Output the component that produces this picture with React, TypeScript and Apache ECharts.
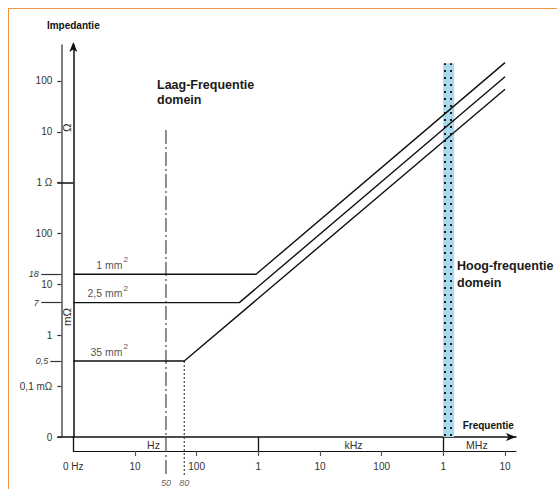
import React, { useEffect, useRef } from 'react';
import * as echarts from 'echarts';

// ---------- frequency axis (schematic log scale, "0 Hz" origin drawn at 1 Hz) ----------
const xTickHz = [1, 10, 100, 1e3, 1e4, 1e5, 1e6, 1e7];
const xTickLabels = ['0 Hz', '10', '100', '1', '10', '100', '1', '10'];
const xRangeHz = [1, 1.507e7];
const unitNames = ['Hz', 'kHz', 'MHz'];
const unitLabelHz = [20, 3.5e4, 3.5e6];
const unitBoundsHz = [1, 1e3, 1e6];

// ---------- impedance axis (schematic log scale, "0" origin drawn at 10 µΩ) ----------
const yTickOhm = [1e-5, 1e-4, 1e-3, 1e-2, 1e-1, 1, 10, 100];
const yTickLabels = ['0', '0,1 mΩ', '1', '10', '100', '1 Ω', '10', '100'];
const yRangeOhm = [1e-5, 509];
const yUnitNames = ['Ω', 'mΩ'];
const yUnitOhm = [12, 2.3e-3];
const yLongTickOhm = [1e-5, 1]; // "0" and "1 Ω" ticks crossing to the arrow axis

// ---------- cables ----------
const cableNames = ['1 mm', '2,5 mm', '35 mm'];
const plateauOhm = [0.0158, 0.00438, 0.000312];
const plateauLabels = ['18', '7', '0,5'];
const cornerHz = [918, 492, 63];
const endHz = [1e7, 1e7, 1e7];
const endOhm = [229, 121, 68.6];
const cableLabelHz = 7.7;

// ---------- 50 Hz / 80 Hz markers ----------
const markerLabels = ['50', '80'];
const markerHz = [31.8, 63];
const markerTopOhm = [10.9, 0.000312];
const markerBottomOhm = 1.64e-6;

// ---------- high-frequency band ----------
const bandHz = 1.22e6;
const bandTopOhm = 223;

const FONT = "'Liberation Sans', Arial, Helvetica, sans-serif";
const xPos = (f: number) => Math.log10(f / xRangeHz[0]);
const yPos = (o: number) => Math.log10(o / yRangeOhm[0]);
const xMax = xPos(xRangeHz[1]);
const yMax = yPos(yRangeOhm[1]);

const lookup = (vals: number[], labels: string[]) => (v: number) => {
  const i = vals.findIndex((t) => Math.abs(t - v) < 1e-6);
  return i >= 0 ? labels[i] : '';
};

function buildOption() {
  const hidden = { show: false };
  const xAxis: any[] = [
    {
      type: 'value', min: 0, max: xMax, position: 'bottom', offset: 0,
      axisLine: { show: true, onZero: false, symbol: ['none', 'arrow'], symbolSize: [6, 10], lineStyle: { color: '#111', width: 1.5 } },
      axisTick: { show: true, customValues: unitBoundsHz.map(xPos), length: 14, lineStyle: { color: '#111', width: 1.3 } },
      axisLabel: hidden, splitLine: hidden,
      name: 'Frequentie', nameLocation: 'end', nameGap: -53.3,
      nameTextStyle: { fontFamily: FONT, fontWeight: 'bold', fontSize: 10, color: '#111', verticalAlign: 'bottom', padding: [0, 0, 7, 0] },
    },
    {
      type: 'value', min: 0, max: xMax, position: 'bottom', offset: 14,
      axisLine: { show: true, onZero: false, lineStyle: { color: '#111', width: 1.2 } },
      axisTick: { show: true, customValues: xTickHz.slice(1).map(xPos), length: 5, lineStyle: { color: '#555', width: 1.2 } },
      axisLabel: {
        show: true, customValues: xTickHz.map(xPos), formatter: lookup(xTickHz.map(xPos), xTickLabels),
        margin: 10.5, fontSize: 10, color: '#333', fontFamily: FONT,
      },
      splitLine: hidden,
    },
    {
      type: 'value', min: 0, max: xMax, position: 'bottom', offset: 14,
      axisLine: { show: false, onZero: false }, axisTick: hidden,
      axisLabel: {
        show: true, inside: true, customValues: unitLabelHz.map(xPos), formatter: lookup(unitLabelHz.map(xPos), unitNames),
        margin: 1, fontSize: 10.5, color: '#333', fontFamily: FONT,
      },
      splitLine: hidden,
    },
  ];

  const yAxis: any[] = [
    {
      type: 'value', min: 0, max: yMax, position: 'left', offset: 0,
      axisLine: { show: true, onZero: false, symbol: ['none', 'arrow'], symbolSize: [6, 10], symbolOffset: [0, 3], lineStyle: { color: '#111', width: 1.5 } },
      axisTick: { show: true, customValues: yLongTickOhm.map(yPos), length: 16, lineStyle: { color: '#111', width: 1.5 } },
      axisLabel: {
        show: true, customValues: yUnitOhm.map(yPos), formatter: lookup(yUnitOhm.map(yPos), yUnitNames),
        rotate: 90, margin: 0, fontSize: 11.5, color: '#333', fontFamily: FONT,
      },
      splitLine: hidden,
      name: 'Impedantie', nameLocation: 'end', nameGap: 15,
      nameTextStyle: { fontFamily: FONT, fontWeight: 'bold', fontSize: 10, color: '#111' },
    },
    {
      type: 'value', min: 0, max: yMax, position: 'left', offset: 12,
      axisLine: { show: true, onZero: false, lineStyle: { color: '#555', width: 1.5 } },
      axisTick: { show: true, customValues: yTickOhm.map(yPos), length: 4, lineStyle: { color: '#333', width: 1.2 } },
      axisLabel: {
        show: true, customValues: yTickOhm.map(yPos), formatter: lookup(yTickOhm.map(yPos), yTickLabels),
        margin: 9, fontSize: 10, color: '#333', fontFamily: FONT,
      },
      splitLine: hidden,
    },
    {
      type: 'value', min: 0, max: yMax, position: 'left', offset: 12,
      axisLine: { show: false, onZero: false },
      axisTick: { show: true, customValues: plateauOhm.slice(0, 2).map(yPos), length: 20, lineStyle: { color: '#333', width: 1.2 } },
      axisLabel: {
        show: true, customValues: plateauOhm.slice(0, 2).map(yPos), formatter: lookup(plateauOhm.map(yPos), plateauLabels),
        margin: 22.5, fontSize: 9, fontStyle: 'italic', color: '#333', fontFamily: FONT,
      },
      splitLine: hidden,
    },
    {
      type: 'value', min: 0, max: yMax, position: 'left', offset: 12,
      axisLine: { show: false, onZero: false },
      axisTick: { show: true, customValues: plateauOhm.slice(2).map(yPos), length: 11, lineStyle: { color: '#333', width: 1.2 } },
      axisLabel: {
        show: true, customValues: plateauOhm.slice(2).map(yPos), formatter: lookup(plateauOhm.map(yPos), plateauLabels),
        margin: 13, fontSize: 9, fontStyle: 'italic', color: '#333', fontFamily: FONT,
      },
      splitLine: hidden,
    },
  ];

  const series: any[] = [];

  series.push({
    type: 'bar', name: 'band', barWidth: 11, z: 1,
    data: [[xPos(bandHz), yPos(bandTopOhm)]],
    itemStyle: {
      color: '#a9d9ee',
      decal: { symbol: 'rect', symbolSize: 1, color: '#1a1a1a', dashArrayX: [1.2, 3.8], dashArrayY: [1.2, 4.3], rotation: 0 },
    },
  });

  cableNames.forEach((name, i) => {
    series.push({
      type: 'line', name, symbol: 'none', z: 3,
      lineStyle: { color: '#111', width: 1.4 },
      data: [
        [xPos(xTickHz[0]), yPos(plateauOhm[i])],
        [xPos(cornerHz[i]), yPos(plateauOhm[i])],
        [xPos(endHz[i]), yPos(endOhm[i])],
      ],
    });
  });

  const markerStyles: any[] = [[14, 3, 2, 3], [2, 2]];
  markerLabels.forEach((name, i) => {
    series.push({
      type: 'line', name: name + ' Hz', symbol: 'none', clip: false, z: 2,
      lineStyle: { color: '#444', width: 1.2, type: markerStyles[i] },
      data: [
        [xPos(markerHz[i]), yPos(markerTopOhm[i])],
        [xPos(markerHz[i]), yPos(markerBottomOhm)],
      ],
    });
  });

  series.push({
    type: 'scatter', name: 'cable labels', symbol: 'circle', symbolSize: 1, z: 4,
    itemStyle: { color: 'transparent' },
    data: plateauOhm.map((o) => [xPos(cableLabelHz), yPos(o)]),
    label: {
      show: true, position: 'top', align: 'right', distance: 0,
      formatter: (p: any) => `{n|${cableNames[p.dataIndex]}}{s|2}`,
      rich: {
        n: { fontSize: 10.5, color: '#222', lineHeight: 18, fontFamily: FONT },
        s: { fontSize: 8, color: '#222', lineHeight: 8, verticalAlign: 'top', padding: [0, 0, 0, 1], fontFamily: FONT },
      },
    },
  });

  series.push({
    type: 'scatter', name: 'marker labels', symbol: 'circle', symbolSize: 1, clip: false, z: 4,
    itemStyle: { color: 'transparent' },
    data: markerHz.map((f) => [xPos(f), yPos(markerBottomOhm)]),
    label: {
      show: true, position: 'bottom', distance: 1,
      formatter: (p: any) => markerLabels[p.dataIndex],
      fontSize: 9, fontStyle: 'italic', color: '#333', fontFamily: FONT,
    },
  });

  return {
    animation: false,
    textStyle: { fontFamily: FONT },
    grid: { left: 73.3, right: 41, top: 45, bottom: 52, containLabel: false, outerBoundsMode: 'none' },
    title: [
      {
        text: 'Laag-Frequentie\ndomein', left: 157, top: 77, padding: 0,
        textStyle: { fontSize: 12.5, fontWeight: 'bold', lineHeight: 15.5, color: '#1a1a1a', fontFamily: FONT },
      },
      {
        text: 'Hoog-frequentie\ndomein', left: 457, top: 258, padding: 0,
        textStyle: { fontSize: 12.5, fontWeight: 'bold', lineHeight: 16.5, color: '#1a1a1a', fontFamily: FONT },
      },
    ],
    xAxis,
    yAxis,
    series,
  };
}

export default function App() {
  const ref = useRef<HTMLDivElement>(null);
  useEffect(() => {
    if (!ref.current) return;
    const chart = echarts.init(ref.current, null, { renderer: 'svg' });
    chart.setOption(buildOption() as any);
    return () => chart.dispose();
  }, []);
  return (
    <div style={{ position: 'absolute', left: 0, top: 0, width: 557, height: 489, background: '#fff' }}>
      <div ref={ref} style={{ width: 557, height: 489 }} />
      <div
        style={{
          position: 'absolute', left: 8, top: 8, right: 0, bottom: 0,
          borderTop: '1.5px solid #f29441', borderLeft: '1.5px solid #f29441', pointerEvents: 'none',
        }}
      />
    </div>
  );
}
